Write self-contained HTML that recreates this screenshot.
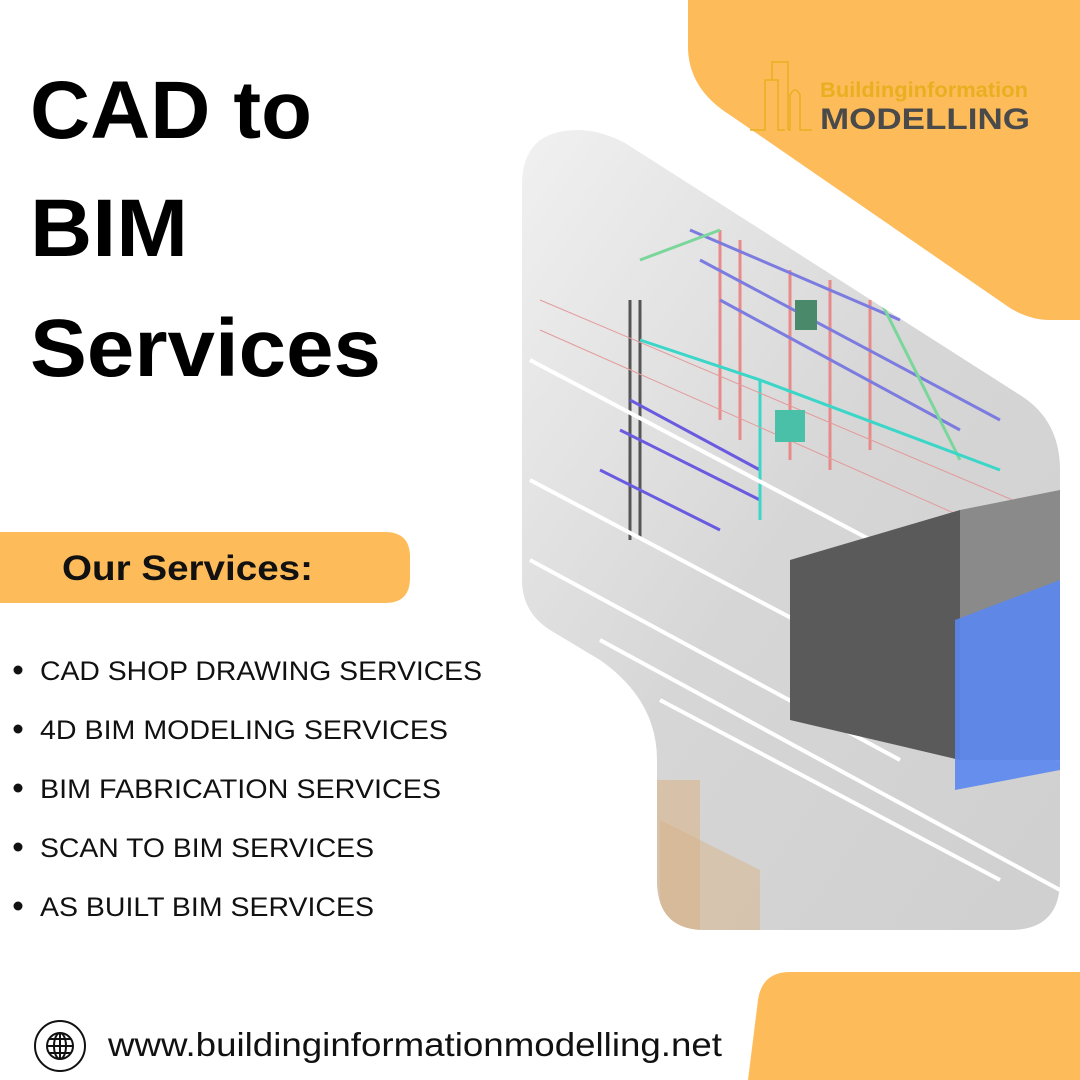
<!DOCTYPE html>
<html><head><meta charset="utf-8"><style>
html,body{margin:0;padding:0;background:#fff}
svg{display:block}
</style></head><body>
<svg width="1080" height="1080" viewBox="0 0 1080 1080" xmlns="http://www.w3.org/2000/svg">
<defs>
<clipPath id="img">
<path d="M522,185 Q522,130 578,130 Q600,130 625,143 L1020,395 Q1060,420 1060,470 L1060,880 Q1060,930 1010,930 L705,930 Q657,930 657,880 L657,760 Q657,700 600,660 L550,630 Q522,612 522,580 Z"/>
</clipPath>
<linearGradient id="bg" x1="0" y1="0" x2="1" y2="1">
<stop offset="0" stop-color="#f2f2f2"/><stop offset="0.5" stop-color="#d6d6d6"/><stop offset="1" stop-color="#cfcfcf"/>
</linearGradient>
</defs>
<path d="M688,0 L1080,0 L1080,320 L1050,320 Q1030,320 1010,308 L730,115 Q690,90 688,50 Z" fill="#fdbb59"/>
<path d="M770,972 L1080,972 L1080,1080 L748,1080 L758,1000 Q762,972 790,972 Z" fill="#fdbb59"/>
<g fill="none" stroke="#e8b020" stroke-width="1.5">
<path d="M750,130 L765,130 L765,80 L778,80 L778,130 L785,130 M772,80 L772,62 L788,62 L788,130 M788,130 L790,130 L790,95 Q795,85 800,95 L800,130 L812,130"/>
</g>
<text x="820" y="97" font-family="Liberation Sans, sans-serif" font-size="21" font-weight="bold" fill="#e8b020" textLength="208" lengthAdjust="spacingAndGlyphs">Buildinginformation</text>
<text x="820" y="129" font-family="Liberation Sans, sans-serif" font-size="30" font-weight="bold" fill="#4a4a4a" textLength="210" lengthAdjust="spacingAndGlyphs">MODELLING</text>
<g clip-path="url(#img)">
<rect x="500" y="120" width="580" height="820" fill="url(#bg)"/>
<rect x="500" y="780" width="200" height="160" fill="#d8b48a" opacity="0.6"/>
<path d="M660,820 L760,870 L760,930 L660,930 Z" fill="#d8b48a" opacity="0.5"/>
<g stroke-width="3" fill="none">
<path d="M630,300 L630,540 M640,300 L640,540" stroke="#555"/>
<path d="M720,230 L720,420 M740,240 L740,440 M790,270 L790,460 M830,280 L830,470 M870,300 L870,450" stroke="#e88a8a"/>
<path d="M690,230 L900,320 M700,260 L1000,420 M720,300 L960,430" stroke="#7c7ce0"/>
<path d="M640,260 L720,230 M880,300 L960,460" stroke="#7ad69a"/>
<path d="M620,430 L760,500 M600,470 L720,530 M630,400 L760,470" stroke="#6a5ae0"/>
<path d="M640,340 L760,380 L760,520 M760,380 L1000,470" stroke="#3ad6c8"/>
<path d="M530,480 L1060,760 M530,560 L900,760 M600,640 L1060,890 M660,700 L1000,880 M530,360 L1060,640" stroke="#ffffff" stroke-width="4"/>
<path d="M540,330 L1060,560 M540,300 L1060,520" stroke="#e49a9a" stroke-width="1"/>
</g>
<path d="M790,560 L960,510 L960,760 L790,720 Z" fill="#5a5a5a"/>
<path d="M960,510 L1060,490 L1060,760 L960,760 Z" fill="#8a8a8a"/>
<path d="M955,620 L1060,580 L1060,770 L955,790 Z" fill="#5a86ee" opacity="0.9"/>
<rect x="795" y="300" width="22" height="30" fill="#4a8a6a"/>
<rect x="775" y="410" width="30" height="32" fill="#4ac0a8"/>
</g>
<g font-family="Liberation Sans, sans-serif" font-weight="bold" font-size="82" fill="#000">
<text x="30" y="138" textLength="282" lengthAdjust="spacingAndGlyphs">CAD to</text>
<text x="30" y="256" textLength="158" lengthAdjust="spacingAndGlyphs">BIM</text>
<text x="30" y="376" textLength="351" lengthAdjust="spacingAndGlyphs">Services</text>
</g>
<path d="M0,532 L385,532 Q410,532 410,557 L410,578 Q410,603 385,603 L0,603 Z" fill="#fdbb59"/>
<text x="62" y="580" font-family="Liberation Sans, sans-serif" font-weight="bold" font-size="35" fill="#111" textLength="251" lengthAdjust="spacingAndGlyphs">Our Services:</text>
<g font-family="Liberation Sans, sans-serif" font-size="27" fill="#111">
<circle cx="18" cy="670" r="4.5"/><text x="40" y="680" textLength="442" lengthAdjust="spacingAndGlyphs">CAD SHOP DRAWING SERVICES</text>
<circle cx="18" cy="729" r="4.5"/><text x="40" y="739" textLength="408" lengthAdjust="spacingAndGlyphs">4D BIM MODELING SERVICES</text>
<circle cx="18" cy="788" r="4.5"/><text x="40" y="798" textLength="401" lengthAdjust="spacingAndGlyphs">BIM FABRICATION SERVICES</text>
<circle cx="18" cy="847" r="4.5"/><text x="40" y="857" textLength="334" lengthAdjust="spacingAndGlyphs">SCAN TO BIM SERVICES</text>
<circle cx="18" cy="906" r="4.5"/><text x="40" y="916" textLength="334" lengthAdjust="spacingAndGlyphs">AS BUILT BIM SERVICES</text>
</g>
<g fill="none" stroke="#111" stroke-width="2">
<circle cx="60" cy="1046" r="25"/>
<circle cx="60" cy="1046" r="13"/>
<ellipse cx="60" cy="1046" rx="6" ry="13"/>
<path d="M47,1046 L73,1046 M49,1039 L71,1039 M49,1053 L71,1053 M60,1033 L60,1059"/>
</g>
<text x="108" y="1056" font-family="Liberation Sans, sans-serif" font-size="33" fill="#111" textLength="614" lengthAdjust="spacingAndGlyphs">www.buildinginformationmodelling.net</text>
</svg>
</body></html>
